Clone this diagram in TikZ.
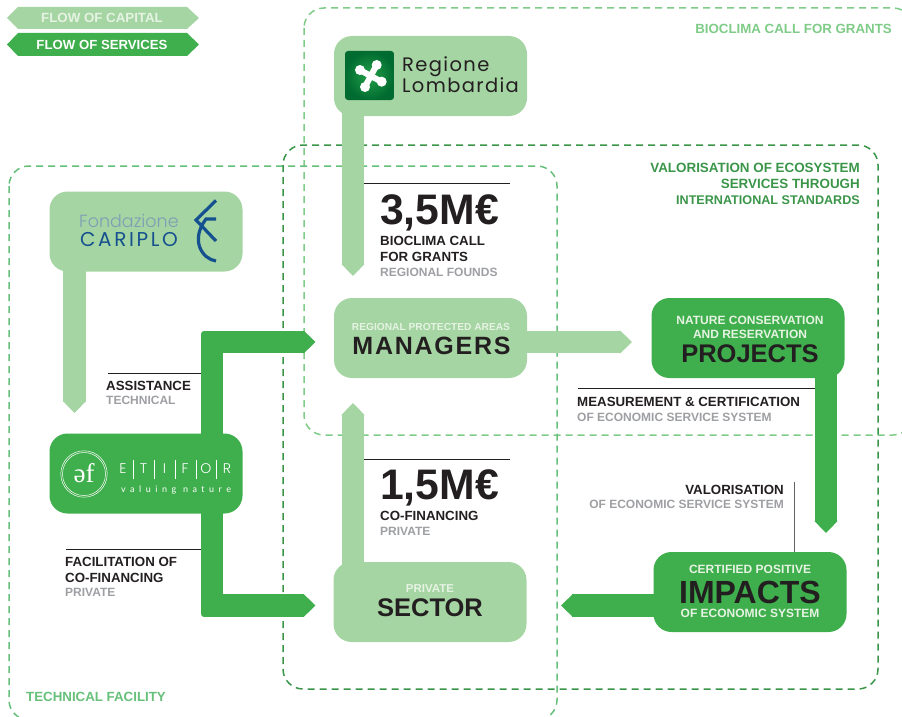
\documentclass[tikz,border=0pt]{standalone}
\usepackage{fontspec}
\usetikzlibrary{arrows.meta,calc}
\setmainfont{Liberation Sans}
\newfontfamily\logofont[LetterSpace=7]{Poppins}
\newfontfamily\cariwide[LetterSpace=13]{Poppins}
\newfontfamily\logolight{Poppins Light}
\newfontfamily\wideblack[LetterSpace=7]{Liberation Sans}
\newfontfamily\etifont[LetterSpace=50]{Lato}
\newfontfamily\schwafont{Liberation Serif}
\newcommand{\fsz}[1]{\fontsize{#1}{#1}\selectfont}
\definecolor{capc}{HTML}{A5D5A3}
\definecolor{svcc}{HTML}{3FAE4C}
\definecolor{inkc}{HTML}{231F20}
\definecolor{greyc}{HTML}{9D9FA2}
\definecolor{palec}{HTML}{E6F3E3}
\definecolor{dashA}{HTML}{7FCB88}
\definecolor{dashB}{HTML}{3A9549}
\definecolor{dashC}{HTML}{66C07A}
\definecolor{cariblue}{HTML}{15508F}
\definecolor{cariblueb}{HTML}{7F9DB5}
\definecolor{logohi}{HTML}{24A048}
\definecolor{logolo}{HTML}{006B30}
\tikzset{
  boxnode/.style={rounded corners=18pt,minimum width=193pt,minimum height=80pt,inner sep=0pt,outer sep=0pt},
  capbox/.style={boxnode,fill=capc},
  svcbox/.style={boxnode,fill=svcc},
  zone/.style={rounded corners=20pt,line width=1.5pt,dash pattern=on 7pt off 5pt},
  capflow/.style={draw=capc,line width=22.5pt,-{Triangle[length=12pt,width=22.5pt,fill=capc]}},
  svcflow/.style={draw=svcc,line width=22.5pt,-{Triangle[length=12pt,width=22.5pt,fill=svcc]}},
  rule/.style={line width=0.9pt,draw=inkc},
  tl/.style={anchor=base west,inner sep=0pt,font=\bfseries\fsz{13.3},text=inkc},
  tr/.style={anchor=base east,inner sep=0pt,font=\bfseries\fsz{13.3},text=inkc},
  tc/.style={anchor=base,inner sep=0pt,font=\bfseries\fsz{13.3},text=inkc},
  grey/.style={text=greyc,font=\bfseries\fsz{12}},
  pale/.style={text=palec},
  lobe/.style={line width=6pt,draw=white,line cap=round},
}
\begin{document}
\begin{tikzpicture}[x=1pt,y=-1pt]
\useasboundingbox (0,0) rectangle (902,717);
\clip (0,0) rectangle (902,717);

% zones
\draw[zone,draw=dashA] (304,8) rectangle (913,435);
\draw[zone,draw=dashC] (9,166) rectangle (557,720);
\draw[zone,draw=dashB] (283,145) rectangle (878,689);

\coordinate (regioneC) at (430.5,76);
\coordinate (cariploC) at (146,231.5);
\coordinate (etiforC) at (146,473.5);
\coordinate (managersC) at (430.5,338);
\coordinate (projectsC) at (748,338);
\coordinate (impactsC) at (750,592);
\coordinate (privateC) at (430,602);

% connector end points
\coordinate (toManagersTop) at (353,276);
\coordinate (toEtifor) at (74.5,413);
\coordinate (toManagersLeft) at (315.5,342);
\coordinate (toPrivateLeft) at (315.5,605.5);
\coordinate (toProjects) at (632,342);
\coordinate (toImpacts) at (826,533);
\coordinate (toPrivateRight) at (561,605.5);
\coordinate (toManagersBottom) at (353,403);

% connectors
\draw[capflow] ($(regioneC)+(-77.5,20)$) -- (toManagersTop);
\draw[capflow] ($(cariploC)+(-71.5,20)$) -- (toEtifor);
\draw[svcflow,line join=miter] ($(etiforC)+(66,0)$) |- (toManagersLeft);
\draw[svcflow,line join=miter] ($(etiforC)+(66,0)$) |- (toPrivateLeft);
\draw[capflow] ($(managersC)+(80,4)$) -- (toProjects);
\draw[svcflow] ($(projectsC)+(78,20)$) -- (toImpacts);
\draw[svcflow] ($(impactsC)+(-60,13.5)$) -- (toPrivateRight);
\draw[capflow] ($(privateC)+(-77,-20)$) -- (toManagersBottom);
% small rounding of the outer elbows
\fill[white] (200.5,330.5) -- (205,330.5) arc[start angle=90,end angle=180,radius=4.5pt] -- cycle;
\fill[white] (200.5,617.5) -- (205,617.5) arc[start angle=270,end angle=180,radius=4.5pt] -- cycle;

% boxes
\node[capbox] (regione) at (regioneC) {};
\node[capbox] (cariplo) at (cariploC) {};
\node[svcbox] (etifor) at (etiforC) {};
\node[capbox] (managers) at (managersC) {};
\node[svcbox] (projects) at (projectsC) {};
\node[svcbox] (impacts) at (impactsC) {};
\node[capbox] (private) at (privateC) {};

% legend
\fill[capc] (7,18) -- (18,7) -- (187,7) -- (199,18) -- (187,29) -- (18,29) -- cycle;
\fill[svcc] (7,44.5) -- (18,33) -- (187,33) -- (199,44.5) -- (187,56) -- (18,56) -- cycle;
\node[tc,pale,font=\bfseries\fsz{13.3}] (legcap) at (102,23) {FLOW OF CAPITAL};
\node[tc,text=white,font=\bfseries\fsz{13.2}] (legsvc) at (102,49) {FLOW OF SERVICES};

% zone labels
\node[tr,text=dashA] (zoneA) at (892,34) {BIOCLIMA CALL FOR GRANTS};
\node[tr,text=dashB,font=\bfseries\fsz{13.4}] (zoneB1) at (860,172) {VALORISATION OF ECOSYSTEM};
\node[tr,text=dashB,font=\bfseries\fsz{13.4}] (zoneB2) at (860,188) {SERVICES THROUGH};
\node[tr,text=dashB,font=\bfseries\fsz{12.6}] (zoneB3) at (860,204) {INTERNATIONAL STANDARDS};
\node[tl,text=dashC] (zoneC) at (26,701) {TECHNICAL FACILITY};

% Regione Lombardia logo
\shade[inner color=logohi,outer color=logolo,rounded corners=3pt] (345,51) rectangle (394,100);
\draw[lobe] (370.7,76) -- (360,70);
\draw[lobe] (370.7,76) -- (376.7,65);
\draw[lobe] (370.7,76) -- (381.7,81.7);
\draw[lobe] (370.7,76) -- (365,87);
\fill[white] (360,70) circle[radius=5pt] (376.7,65) circle[radius=5pt] (381.7,81.7) circle[radius=5pt] (365,87) circle[radius=5pt];
\node[anchor=base west,inner sep=0pt,align=left,text=inkc,font=\logofont\fontsize{19.5}{18.7}\selectfont] (reglogo) at (402,92.5) {Regione\\Lombardia};

% Cariplo logo
\node[tl,font=\logolight\fsz{17.5},text=cariblueb] (car1) at (79,227.5) {Fondazione};
\node[tl,font=\cariwide\fsz{20},text=cariblue] (car2) at (80,246) {CARIPLO};
\draw[cariblue,line width=3.2pt] (216,200.5) -- (196,220) -- (216,241);
\draw[cariblue,line width=3.2pt] (216,261) .. controls (202,259) and (190,240) .. (206,219) -- (216,219);

% Etifor logo
\draw[white,line width=0.5pt] (84,474) circle[radius=23.2pt];
\draw[white,line width=0.5pt] (84,474) circle[radius=21.5pt];
\node[inner sep=0pt,text=white,font=\schwafont\fsz{27}] (efmark) at (84,473) {əf};
\foreach \n/\l/\xx in {a/E/123,b/T/143.5,c/I/164.5,d/F/185,e/O/206,f/R/227}
  \node[inner sep=0pt,text=white,font=\logolight\fsz{14}] (et\n) at (\xx,469) {\l};
\foreach \n/\xx in {a/133,b/154,c/175,d/196,e/216}
  \draw[white,line width=0.3pt] (\xx,460) -- (\xx,479);
\node[tl,font=\etifont\fsz{9},text=white] (etval) at (121,492) {valuing nature};

% text in boxes
\node[tc,pale,font=\bfseries\fsz{10.2}] (m1) at (431,330) {REGIONAL PROTECTED AREAS};
\node[tc,font=\wideblack\bfseries\fsz{25}] (m2) at (431.5,354) {MANAGERS};
\node[tc,pale,font=\bfseries\fsz{12}] (p1) at (750,324) {NATURE CONSERVATION};
\node[tc,pale,font=\bfseries\fsz{12}] (p2) at (750,338) {AND RESERVATION};
\node[tc,font=\bfseries\fsz{25.5}] (p3) at (750,362) {PROJECTS};
\node[tc,pale,font=\bfseries\fsz{12}] (i1) at (750,573) {CERTIFIED POSITIVE};
\node[tc,font=\bfseries\fsz{32},text depth=0pt] (i2) at (750,603) {IMPACTS};
\node[tc,pale,font=\bfseries\fsz{12}] (i3) at (750,617) {OF ECONOMIC SYSTEM};
\node[tc,pale,font=\bfseries\fsz{11.5}] (s1) at (430,592) {PRIVATE};
\node[tc,font=\bfseries\fsz{25.5}] (s2) at (430,616) {SECTOR};

% rules
\coordinate (r1a) at (364,183.5);\coordinate (r1b) at (510,183.5);
\coordinate (r2a) at (364,459.5);\coordinate (r2b) at (510,459.5);
\coordinate (r3a) at (108,373.5);\coordinate (r3b) at (201,373.5);
\coordinate (r4a) at (66,549);\coordinate (r4b) at (201,549);
\coordinate (r5a) at (578,388.5);\coordinate (r5b) at (815,388.5);
\coordinate (r6a) at (794,482);
\draw[rule] (r1a) -- (r1b);
\draw[rule] (r2a) -- (r2b);
\draw[rule] (r3a) -- (r3b);
\draw[rule] (r4a) -- (r4b);
\draw[rule] (r5a) -- (r5b);
\draw[line width=0.9pt,draw=inkc!70] (r6a) -- (r6a |- impacts.north);

% annotations
\node[tl,font=\bfseries\fsz{42.7}] (n35) at (380,224.5) {3,5M€};
\node[tl] (n35a) at (380,245) {BIOCLIMA CALL};
\node[tl] (n35b) at (380,261) {FOR GRANTS};
\node[tl,grey] (n35c) at (380,276) {REGIONAL FOUNDS};
\node[tl,font=\bfseries\fsz{42.7}] (n15) at (380,499.5) {1,5M€};
\node[tl] (n15a) at (380,520) {CO-FINANCING};
\node[tl,grey] (n15b) at (380,535) {PRIVATE};
\node[tl] (as1) at (106,390) {ASSISTANCE};
\node[tl,grey] (as2) at (106,404) {TECHNICAL};
\node[tl] (fa1) at (65,566) {FACILITATION OF};
\node[tl] (fa2) at (65,582) {CO-FINANCING};
\node[tl,grey] (fa3) at (65,596) {PRIVATE};
\node[tl] (me1) at (577,406) {MEASUREMENT \& CERTIFICATION};
\node[tl,grey] (me2) at (577,421) {OF ECONOMIC SERVICE SYSTEM};
\node[tr] (va1) at (784,494) {VALORISATION};
\node[tr,grey] (va2) at (784,508) {OF ECONOMIC SERVICE SYSTEM};
\end{tikzpicture}
\end{document}
